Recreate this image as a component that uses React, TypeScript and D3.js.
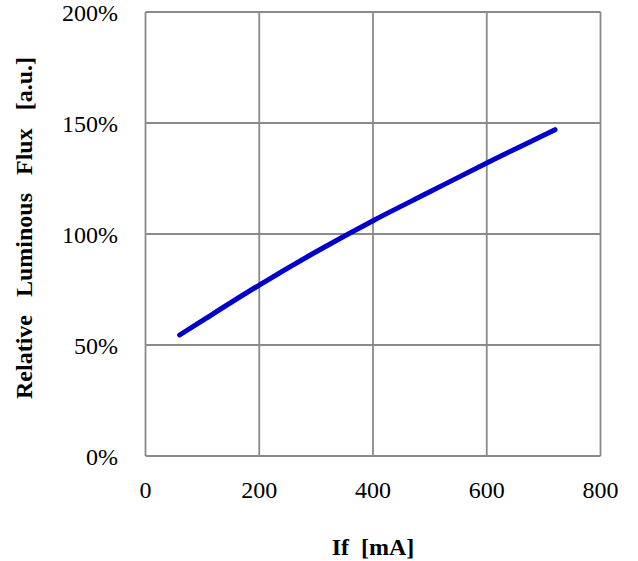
import React from 'react';
import * as d3 from 'd3';

const currentMA = [60, 100, 200, 300, 400, 500, 600, 700, 720];
const relativeFlux = [0.545, 0.61, 0.77, 0.92, 1.06, 1.19, 1.32, 1.445, 1.47];
const xTicks = [0, 200, 400, 600, 800];
const yTicks = [0, 0.5, 1, 1.5, 2];

const width = 638;
const height = 561;
const margin = { top: 12, right: 37.5, bottom: 105, left: 145.5 };

const App: React.FC = () => {
  const x = d3.scaleLinear().domain([0, 800]).range([margin.left, width - margin.right]);
  const y = d3.scaleLinear().domain([0, 2]).range([height - margin.bottom, margin.top]);

  const points: [number, number][] = currentMA.map((c, i) => [c, relativeFlux[i]]);
  const line = d3.line<[number, number]>()
    .x(d => x(d[0]))
    .y(d => y(d[1]))
    .curve(d3.curveMonotoneX);

  const grid = '#8a8a8a';
  const font = 'Liberation Serif, Times New Roman, serif';

  return (
    <svg width={width} height={height} style={{ position: 'absolute', left: 0, top: 0 }}>
      <rect width={width} height={height} fill="#fff" />

      {/* grid */}
      {xTicks.map(t => (
        <line key={'gx' + t} x1={x(t)} x2={x(t)} y1={y(0)} y2={y(2)} stroke={grid} strokeWidth={1.8} />
      ))}
      {yTicks.map(t => (
        <line key={'gy' + t} x1={x(0)} x2={x(800)} y1={y(t)} y2={y(t)} stroke={grid} strokeWidth={1.8} />
      ))}

      {/* tick labels */}
      {yTicks.map(t => (
        <text key={'ty' + t} x={118} y={y(t)} dy="0.36em" textAnchor="end"
          fontFamily={font} fontSize={24} fill="#000">
          {d3.format('.0%')(t)}
        </text>
      ))}
      {xTicks.map(t => (
        <text key={'tx' + t} x={x(t)} y={498} textAnchor="middle"
          fontFamily={font} fontSize={24} fill="#000">
          {t}
        </text>
      ))}

      {/* series */}
      <path d={line(points) || ''} fill="none" stroke="#0000cc" strokeWidth={5} strokeLinecap="round" />

      {/* axis titles */}
      <text x={(x(0) + x(800)) / 2} y={555} textAnchor="middle" fontFamily={font}
        fontSize={24} fontWeight="bold" fill="#000" style={{ whiteSpace: 'pre' }}>
        {'If  [mA]'}
      </text>
      <text transform="translate(32,228) rotate(-90)" textAnchor="middle"
        fontFamily={font} fontSize={24} fontWeight="bold" fill="#000"
        style={{ whiteSpace: 'pre', wordSpacing: '3px' }}>
        {'Relative  Luminous  Flux  [a.u.]'}
      </text>
    </svg>
  );
};

export default App;
